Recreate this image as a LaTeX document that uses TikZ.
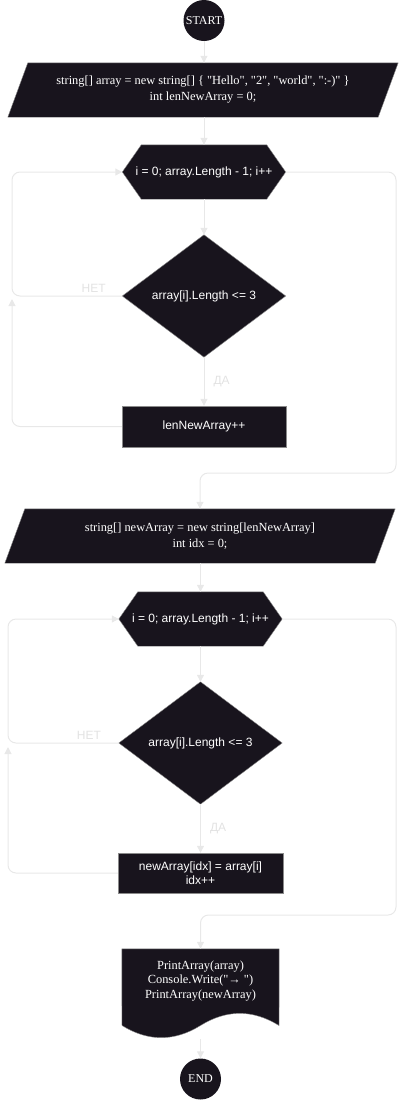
\documentclass[tikz,border=0pt]{standalone}
\usepackage{fontspec}
\setmainfont{Liberation Serif}[Ligatures=TeXOff]
\setsansfont{Liberation Sans}
\usetikzlibrary{arrows.meta}
\pgfdeclarelayer{bg}
\pgfsetlayers{bg,main}
\definecolor{dark}{HTML}{18141D}
\definecolor{edge}{HTML}{E8E8E8}
\definecolor{lbl}{HTML}{E2E2E2}
\definecolor{rim}{HTML}{8A8A8A}
\begin{document}
\begin{tikzpicture}[x=1pt,y=-1pt,
  box/.style={rectangle, inner sep=0pt, text=white, align=center},
  serifbox/.style={box, font=\rmfamily\fontsize{12.4}{16}\selectfont},
  sansbox/.style={box, font=\sffamily\fontsize{12}{14}\selectfont},
  term/.style={circle, fill=dark, minimum size=41pt, inner sep=0pt, text=white, font=\rmfamily\fontsize{12}{14}\selectfont},
  shapefill/.style={fill=dark, draw=rim, line width=0.4pt},
  conn/.style={draw=edge, line width=1pt, -{Triangle[length=7pt,width=7pt]}, rounded corners=8pt},
  lab/.style={text=lbl, font=\sffamily\fontsize{12}{14}\selectfont, inner sep=2pt},
]
\useasboundingbox (0,0) rectangle (405,1101);

% nodes
\node[term] (start) at (204,20.5) {START};
\node[serifbox, minimum width=390pt, minimum height=54pt] (p1) at (203,90)
  {string[] array = new string[] \{ "Hello", "2", "world", ":-)" \}\\int lenNewArray = 0;};
\node[sansbox, minimum width=163pt, minimum height=54pt] (h1) at (204,172) {i = 0; array.Length - 1; i++};
\node[sansbox, minimum width=163pt, minimum height=122pt] (d1) at (204,296) {array[i].Length <= 3};
\node[sansbox, minimum width=164pt, minimum height=41pt] (r1) at (204,426.5) {lenNewArray++};
\node[serifbox, minimum width=390pt, minimum height=54pt] (p2) at (200,536)
  {string[] newArray = new string[lenNewArray]\\int idx = 0;};
\node[sansbox, minimum width=163pt, minimum height=54pt] (h2) at (200.5,619) {i = 0; array.Length - 1; i++};
\node[sansbox, minimum width=163pt, minimum height=122pt] (d2) at (200.5,743) {array[i].Length <= 3};
\node[sansbox, minimum width=165pt, minimum height=40pt] (r2) at (200.5,873) {newArray[idx] = array[i]\\idx++};
\node[box, minimum width=157pt, minimum height=90pt] (doc) at (200.5,994) {};
\node[box, font=\rmfamily\fontsize{12.4}{14.5}\selectfont] (doctxt) at (200.5,981)
  {PrintArray(array)\\Console.Write("→ ")\\PrintArray(newArray)};
\node[term] (end) at (200.5,1079) {END};

% shapes
\begin{pgfonlayer}{bg}
\path[shapefill] (p1.south west) -- ([xshift=-20pt]p1.south east) -- (p1.north east) -- ([xshift=20pt]p1.north west) -- cycle;
\path[shapefill] (p2.south west) -- ([xshift=-20pt]p2.south east) -- (p2.north east) -- ([xshift=20pt]p2.north west) -- cycle;
\path[shapefill] (h1.west) -- ([xshift=19pt]h1.north west) -- ([xshift=-19pt]h1.north east) -- (h1.east) -- ([xshift=-19pt]h1.south east) -- ([xshift=19pt]h1.south west) -- cycle;
\path[shapefill] (h2.west) -- ([xshift=19pt]h2.north west) -- ([xshift=-19pt]h2.north east) -- (h2.east) -- ([xshift=-19pt]h2.south east) -- ([xshift=19pt]h2.south west) -- cycle;
\path[shapefill] (d1.north) -- (d1.east) -- (d1.south) -- (d1.west) -- cycle;
\path[shapefill] (d2.north) -- (d2.east) -- (d2.south) -- (d2.west) -- cycle;
\path[shapefill] (r1.south west) rectangle (r1.north east);
\path[shapefill] (r2.south west) rectangle (r2.north east);
\path[shapefill] (doc.north west) -- (doc.north east) -- (279,1025.5)
  .. controls (252.83,1009.3) and (226.67,1009.3) .. (200.5,1025.5)
  .. controls (174.33,1041.7) and (148.17,1041.7) .. (122,1025.5) -- cycle;
\end{pgfonlayer}

% connectors
\draw[conn] (start.south) -- (start.south |- p1.north);
\draw[conn] (h1.north |- p1.south) -- (h1.north);
\draw[conn] (h1.south) -- (d1.north);
\draw[conn] (d1.south) -- node[lab, right=7pt] {ДА} (r1.north);
\draw[conn] (d1.west) -- node[lab, pos=0.26, above=1pt] {НЕТ} (12,296) -- (12,172) -- (h1.west);
\draw[conn] (r1.west) -- (12,426.5) -- (12,299);
\draw[conn] (h1.east) -- (396,172) -- (396,473) -- (200,473) -- (p2.north);

\draw[conn] (p2.south -| h2.north) -- (h2.north);
\draw[conn] (h2.south) -- (d2.north);
\draw[conn] (d2.south) -- node[lab, right=7pt] {ДА} (r2.north);
\draw[conn] (d2.west) -- node[lab, pos=0.27, above=1pt] {НЕТ} (8,743) -- (8,619) -- (h2.west);
\draw[conn] (r2.west) -- (8,873) -- (8,747);
\draw[conn] (h2.east) -- (396,619) -- (396,915) -- (200.5,915) -- (doc.north);
\draw[conn] (doc.south) -- (end.north);
\end{tikzpicture}
\end{document}
